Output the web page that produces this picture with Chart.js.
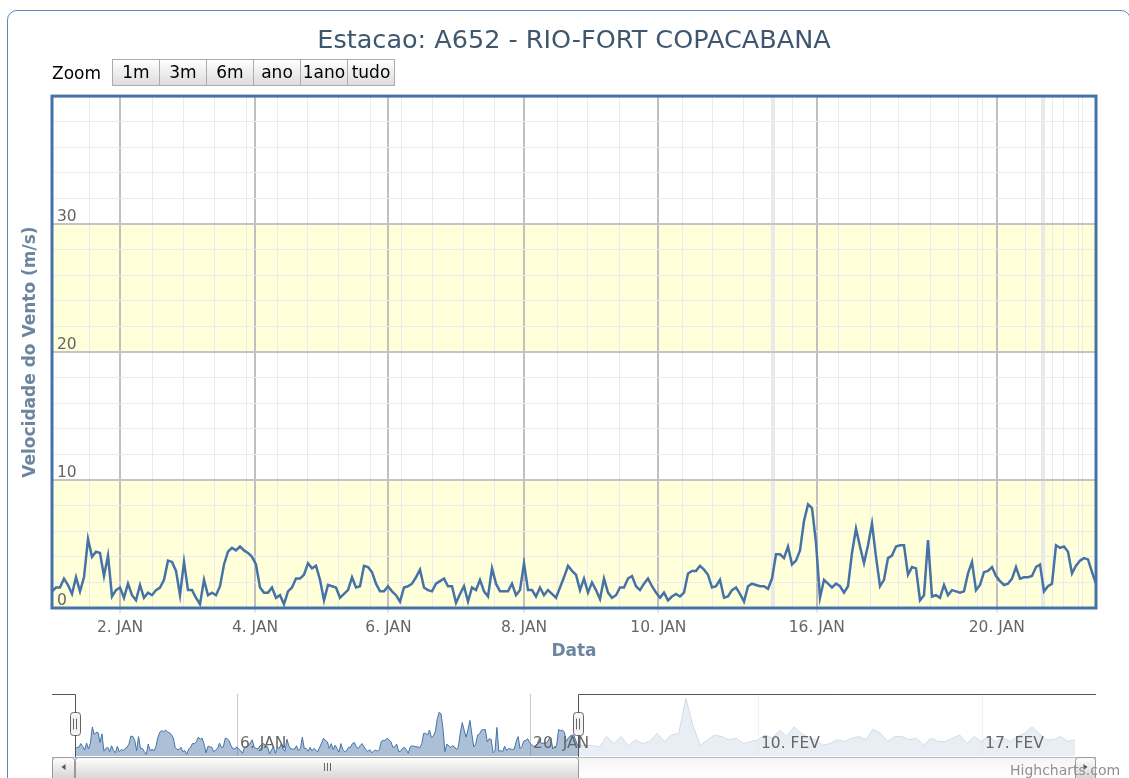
<!DOCTYPE html>
<html>
<head>
<meta charset="utf-8">
<script src="https://cdn.jsdelivr.net/npm/chart.js"></script>
<style>
html,body{margin:0;padding:0;background:#fff;width:1129px;height:778px;overflow:hidden;font-family:'DejaVu Sans',sans-serif;}
#frame{position:absolute;left:7px;top:10px;width:1124px;height:800px;border:1.5px solid #5B87BD;border-radius:10px;box-sizing:border-box;}
#main{position:absolute;left:0;top:0;}
#nav{position:absolute;left:52px;top:690px;}
#zoom{position:absolute;left:52px;top:59px;height:27px;display:flex;align-items:center;font-size:17px;color:#000;}
#zoom .lbl{width:61px;}
#zoom .btn{box-sizing:border-box;width:48px;height:27px;margin-left:-1px;border:1px solid #ABABAB;background:linear-gradient(#FFFFFF,#DCDCDC);font-size:17px;line-height:25px;text-align:center;color:#000;}
#credit{position:absolute;left:1010px;top:762px;font-size:14px;line-height:16px;color:#909090;}
</style>
</head>
<body>
<div id="frame"></div>
<canvas id="main" width="1129" height="680"></canvas>
<canvas id="nav" width="1044" height="88"></canvas>
<div id="zoom"><span class="lbl">Zoom</span><span class="btn">1m</span><span class="btn">3m</span><span class="btn">6m</span><span class="btn">ano</span><span class="btn">1ano</span><span class="btn">tudo</span></div>
<div id="credit">Highcharts.com</div>
<script>
// ---- data (hourly-ish readings on an ordinal axis) ----
const chartTitle = 'Estacao: A652 - RIO-FORT COPACABANA';
const yTitle = 'Velocidade do Vento (m/s)';
const xTitle = 'Data';

const windSpeed = [
  1.3, 1.6, 1.6, 2.3, 1.8, 1.1, 2.4, 1.3, 2.4, 5.4,
  4.0, 4.4, 4.3, 2.5, 4.1, 0.9, 1.4, 1.6, 0.8, 1.9,
  1.0, 0.6, 1.8, 0.8, 1.2, 1.0, 1.4, 1.6, 2.2, 3.7,
  3.6, 2.9, 1.0, 3.6, 1.4, 1.4, 0.8, 0.3, 2.2, 1.0,
  1.2, 1.0, 1.7, 3.4, 4.4, 4.7, 4.5, 4.8, 4.5, 4.3,
  4.0, 3.4, 1.6, 1.2, 1.2, 1.6, 0.8, 1.0, 0.3, 1.3,
  1.6, 2.3, 2.3, 2.6, 3.5, 3.1,
  3.3, 2.2, 0.6, 1.8, 1.7, 1.6, 0.8, 1.1, 1.4, 2.4,
  1.6, 1.7, 3.3, 3.2, 2.8, 1.9, 1.3, 1.3, 1.7, 1.3,
  1.0, 0.5, 1.6, 1.7, 1.9, 2.4, 3.0, 1.6, 1.4, 1.3,
  1.9, 2.1, 2.3, 1.7, 1.7, 0.4, 1.1, 1.7, 0.5, 1.6,
  1.4, 2.2, 1.3, 0.9, 3.1, 1.9, 1.3, 1.3, 1.3, 1.9,
  1.0, 1.4, 3.5, 1.4, 1.4, 0.9, 1.6, 1.0, 1.4, 1.1,
  0.8, 1.6, 2.4, 3.3, 2.9,
  2.6, 1.4, 2.3, 1.2, 2.0, 1.4, 0.7, 2.3, 1.2, 0.8,
  1.0, 1.6, 1.6, 2.3, 2.5, 1.7, 1.4, 1.9, 2.3, 1.7,
  1.2, 0.8, 1.2, 0.6, 0.9, 1.1, 0.9, 1.2, 2.7, 2.9,
  2.9, 3.3, 3.0, 2.6, 1.6, 1.7, 2.2, 0.8, 0.9, 1.4,
  1.6, 1.1, 0.5, 1.7, 1.9, 1.8, 1.7, 1.7, 1.5, 2.3,
  4.2, 4.2, 3.9, 4.8, 3.4, 3.7, 4.5, 6.8, 8.1, 7.8,
  5.1, 0.8, 2.2, 1.9, 1.6,
  1.9, 1.7, 1.2, 1.7, 4.3, 6.2, 4.8, 3.5, 4.9, 6.6,
  4.0, 1.7, 2.2, 3.9, 4.1, 4.8, 4.9, 4.9, 2.6, 3.2,
  3.1, 0.6, 1.0, 5.3, 0.9, 1.0, 0.8, 1.8, 1.0, 1.4,
  1.3, 1.2, 1.3, 2.7, 3.6, 1.4, 1.8, 2.8, 2.9, 3.2,
  2.5, 2.1, 1.8, 1.9, 2.3, 3.2, 2.3, 2.4, 2.4, 2.5,
  3.2, 3.4, 1.3, 1.7, 1.9, 4.9, 4.7, 4.8, 4.4, 2.7,
  3.3, 3.7, 3.9, 3.8, 2.8, 1.9
];

// later readings, only visible (faded) in the navigator
const windSpeedLater = [
  2.0, 1.9, 1.7, 3.6, 2.3, 3.6, 1.9, 3.0, 2.3, 2.7,
  4.2, 2.7, 3.9, 4.2, 10.7, 5.5, 2.0, 3.0, 3.9, 3.6,
  3.0, 3.3, 2.3, 2.7, 3.0, 3.9, 3.3, 4.8, 3.6, 5.4,
  4.2, 3.3, 3.0, 2.0, 2.3, 3.0, 2.7, 3.3, 3.6, 3.0,
  5.0, 4.2, 2.7, 3.6, 3.6, 3.0, 3.3, 2.0, 3.3, 2.7,
  2.7, 3.3, 3.9, 2.3, 3.6, 2.7, 3.6, 2.7, 3.3, 2.7,
  3.6, 4.2, 5.4, 4.2, 3.0, 3.0, 3.6, 2.7, 3.0
];
const navLaterStep = 3.74; // ordinal slots per later reading

// x ticks (ordinal index of each date)
const tickIndex  = [17, 50.75, 84.1, 118, 151.6, 191.2, 236.2];
const tickLabels = ['2. JAN', '4. JAN', '6. JAN', '8. JAN', '10. JAN', '16. JAN', '20. JAN'];
const minorTickIndex = [9.25, 25, 32.75, 40.5, 48.5, 56.25, 63.75, 71.5, 79.5, 87.25, 95, 102.75, 110.5,
  126.25, 133.75, 141.75, 157.5, 165, 172.75, 185, 196.5, 204.5, 211.5, 219.5, 226.5, 231.25, 232.5,
  243.25, 250, 252.75, 256.5, 257.5];
const gapIndex = [180.25, 247.75];

// y axis
const yMin = 0, yMax = 40, yStep = 2, yMajor = 10;
const bandRanges = [[0, 10], [20, 30]];

// navigator ticks
const navTickIndex  = [84.1, 236.2, 354.5, 470.8];
const navTickLabels = ['6. JAN', '20. JAN', '10. FEV', '17. FEV'];
const navYMax = 11.5;

// ---- main chart ----
const FONT = 'DejaVu Sans';
const mainDeco = {
  id: 'mainDeco',
  beforeDraw(chart) {
    const {ctx, chartArea: a, scales: {x, y}} = chart;
    ctx.save();
    ctx.fillStyle = '#FFFFD9';
    bandRanges.forEach(([f, t]) => {
      const top = y.getPixelForValue(t), bot = y.getPixelForValue(f);
      ctx.fillRect(a.left, top, a.right - a.left, bot - top);
    });
    ctx.strokeStyle = '#EBEBEB';
    ctx.lineWidth = 1;
    minorTickIndex.forEach(v => {
      const px = Math.round(x.getPixelForValue(v)) + 0.5;
      ctx.beginPath(); ctx.moveTo(px, a.top); ctx.lineTo(px, a.bottom); ctx.stroke();
    });
    ctx.strokeStyle = '#E9E9E9';
    ctx.lineWidth = 4;
    gapIndex.forEach(v => {
      const px = x.getPixelForValue(v);
      ctx.beginPath(); ctx.moveTo(px, a.top); ctx.lineTo(px, a.bottom); ctx.stroke();
    });
    ctx.restore();
  },
  afterDraw(chart) {
    const {ctx, chartArea: a} = chart;
    ctx.save();
    ctx.strokeStyle = '#4572A7';
    ctx.lineWidth = 3;
    ctx.strokeRect(a.left, a.top, a.right - a.left, a.bottom - a.top);
    ctx.restore();
  }
};

new Chart(document.getElementById('main'), {
  type: 'line',
  data: {
    datasets: [{
      data: windSpeed.map((v, i) => ({x: i, y: v})),
      borderColor: '#4572A7', borderWidth: 2.5, pointRadius: 0, fill: false, tension: 0
    }]
  },
  options: {
    responsive: false, animation: false, devicePixelRatio: 1,
    layout: {padding: {left: 0, right: 33, top: 0, bottom: 0}},
    plugins: {
      legend: {display: false}, tooltip: {enabled: false},
      title: {display: true, fullSize: false, text: chartTitle, color: '#3E576F',
        font: {family: FONT, size: 25.5, weight: 'normal', lineHeight: 1.2},
        padding: {top: 26, bottom: 39.5}}
    },
    scales: {
      x: {
        type: 'linear', min: 0, max: windSpeed.length - 1,
        afterBuildTicks: s => { s.ticks = tickIndex.map(v => ({value: v})); },
        afterFit: s => { s.height = 72; },
        grid: {color: '#C0C0C0', lineWidth: 2, drawTicks: true, tickLength: 5, tickColor: '#C0D0E0', tickWidth: 1},
        border: {display: false},
        ticks: {autoSkip: false, maxRotation: 0, padding: 6, color: '#666666',
          font: {family: FONT, size: 15.5}, callback: (v, i) => tickLabels[i]},
        title: {display: true, text: xTitle, color: '#6D869F',
          font: {family: FONT, size: 17, weight: 'bold'}, padding: {top: 0, bottom: 18}}
      },
      y: {
        min: yMin, max: yMax,
        afterFit: s => { s.width = 52; },
        ticks: {stepSize: yStep, autoSkip: false, mirror: true, padding: 5, labelOffset: -7,
          color: '#666666', font: {family: FONT, size: 15.5},
          callback: v => (v % yMajor === 0 && v < yMax) ? String(v) : ''},
        grid: {
          color: c => (c.tick && c.tick.value % yMajor === 0) ? '#C4C4C4' : '#EBEBEB',
          lineWidth: c => (c.tick && c.tick.value % yMajor === 0) ? 2 : 1,
          drawTicks: false
        },
        border: {display: false},
        title: {display: true, text: yTitle, color: '#6D869F',
          font: {family: FONT, size: 17, weight: 'bold'}, padding: {top: 20, bottom: 0}}
      }
    }
  },
  plugins: [mainDeco]
});

// ---- navigator ----
const lastIdx = windSpeed.length - 1;
const navMax = lastIdx + windSpeedLater.length * navLaterStep;
const navData = windSpeed.map((v, i) => ({x: i, y: v}))
  .concat(windSpeedLater.map((v, j) => ({x: lastIdx + (j + 1) * navLaterStep, y: v})));

function rrect(ctx, x, y, w, h, r) {
  ctx.beginPath();
  ctx.moveTo(x + r, y); ctx.lineTo(x + w - r, y); ctx.quadraticCurveTo(x + w, y, x + w, y + r);
  ctx.lineTo(x + w, y + h - r); ctx.quadraticCurveTo(x + w, y + h, x + w - r, y + h);
  ctx.lineTo(x + r, y + h); ctx.quadraticCurveTo(x, y + h, x, y + h - r);
  ctx.lineTo(x, y + r); ctx.quadraticCurveTo(x, y, x + r, y); ctx.closePath();
}

const navDeco = {
  id: 'navDeco',
  beforeDatasetsDraw(chart) {
    const {ctx, chartArea: a, scales: {x}} = chart;
    ctx.save();
    ctx.strokeStyle = '#C8C8C8'; ctx.lineWidth = 1;
    navTickIndex.forEach(v => {
      const px = Math.round(x.getPixelForValue(v)) + 0.5;
      ctx.beginPath(); ctx.moveTo(px, a.top); ctx.lineTo(px, a.bottom); ctx.stroke();
    });
    ctx.restore();
  },
  afterDatasetsDraw(chart) {
    const {ctx, chartArea: a, scales: {x}, width, height} = chart;
    const selL = Math.round(x.getPixelForValue(0));
    const selR = Math.round(x.getPixelForValue(lastIdx));
    ctx.save();
    // mask over unselected range
    ctx.fillStyle = 'rgba(255,255,255,0.75)';
    ctx.fillRect(selR, a.top - 1, a.right - selR + 1, a.bottom - a.top + 1);
    // labels
    ctx.font = '15.5px ' + FONT;
    ctx.fillStyle = '#666666';
    ctx.textAlign = 'left'; ctx.textBaseline = 'middle';
    navTickIndex.forEach((v, i) => ctx.fillText(navTickLabels[i], x.getPixelForValue(v) + 3, a.bottom - 12));
    // scrollbar track
    const sbTop = a.bottom + 1, sbH = height - sbTop + 4;
    let g = ctx.createLinearGradient(0, sbTop, 0, sbTop + 20);
    g.addColorStop(0, '#F4F4F4'); g.addColorStop(1, '#FFFFFF');
    ctx.fillStyle = g; ctx.fillRect(0, sbTop, width, sbH);
    ctx.strokeStyle = '#BBBBBB'; ctx.lineWidth = 1;
    ctx.strokeRect(0.5, sbTop + 0.5, width - 1, sbH);
    // buttons
    const btn = (bx, bw, dir) => {
      let gb = ctx.createLinearGradient(0, sbTop, 0, sbTop + 20);
      gb.addColorStop(0, '#FFFFFF'); gb.addColorStop(1, '#D8D8D8');
      ctx.fillStyle = gb; rrect(ctx, bx + 0.5, sbTop + 0.5, bw - 1, sbH, 3); ctx.fill();
      ctx.strokeStyle = '#999999'; ctx.stroke();
      const cx = bx + bw / 2, cy = sbTop + 10;
      ctx.fillStyle = '#555555'; ctx.beginPath();
      ctx.moveTo(cx - 2 * dir, cy); ctx.lineTo(cx + 2 * dir, cy - 3); ctx.lineTo(cx + 2 * dir, cy + 3); ctx.closePath(); ctx.fill();
    };
    btn(0, a.left, 1);
    btn(a.right, width - a.right, -1);
    // thumb
    let gt = ctx.createLinearGradient(0, sbTop, 0, sbTop + 20);
    gt.addColorStop(0, '#FFFFFF'); gt.addColorStop(1, '#DADADA');
    ctx.fillStyle = gt; rrect(ctx, selL + 0.5, sbTop + 0.5, selR - selL, sbH, 3); ctx.fill();
    ctx.strokeStyle = '#999999'; ctx.stroke();
    const mid = Math.round((selL + selR) / 2) + 0.5;
    ctx.strokeStyle = '#666666';
    [-3, 0, 3].forEach(d => { ctx.beginPath(); ctx.moveTo(mid + d, sbTop + 6); ctx.lineTo(mid + d, sbTop + 14); ctx.stroke(); });
    // outline
    ctx.strokeStyle = '#555555'; ctx.lineWidth = 1;
    ctx.beginPath();
    ctx.moveTo(0, a.top + 0.5); ctx.lineTo(selL + 0.5, a.top + 0.5); ctx.lineTo(selL + 0.5, sbTop);
    ctx.moveTo(selR + 0.5, sbTop); ctx.lineTo(selR + 0.5, a.top + 0.5); ctx.lineTo(width, a.top + 0.5);
    ctx.stroke();
    // handles
    [selL, selR].forEach(h => {
      const hx = h - 5 + 0.5, hy = a.top + 18.5;
      ctx.fillStyle = '#F4F4F4'; rrect(ctx, hx, hy, 10, 23, 3); ctx.fill();
      ctx.strokeStyle = '#666666'; ctx.stroke();
      [-1.5, 1.5].forEach(d => { ctx.beginPath(); ctx.moveTo(h + d, hy + 6); ctx.lineTo(h + d, hy + 17); ctx.stroke(); });
    });
    ctx.restore();
  }
};

new Chart(document.getElementById('nav'), {
  type: 'line',
  data: {
    datasets: [{
      data: navData, borderColor: '#4572A7', borderWidth: 1,
      backgroundColor: 'rgba(69,114,167,0.45)', fill: 'origin', pointRadius: 0, tension: 0
    }]
  },
  options: {
    responsive: false, animation: false, devicePixelRatio: 1,
    layout: {padding: {left: 23, right: 21, top: 4, bottom: 22}},
    plugins: {legend: {display: false}, tooltip: {enabled: false}},
    scales: {
      x: {type: 'linear', display: false, min: 0, max: navMax},
      y: {display: false, min: 0, max: navYMax}
    }
  },
  plugins: [navDeco]
});
</script>
</body>
</html>
